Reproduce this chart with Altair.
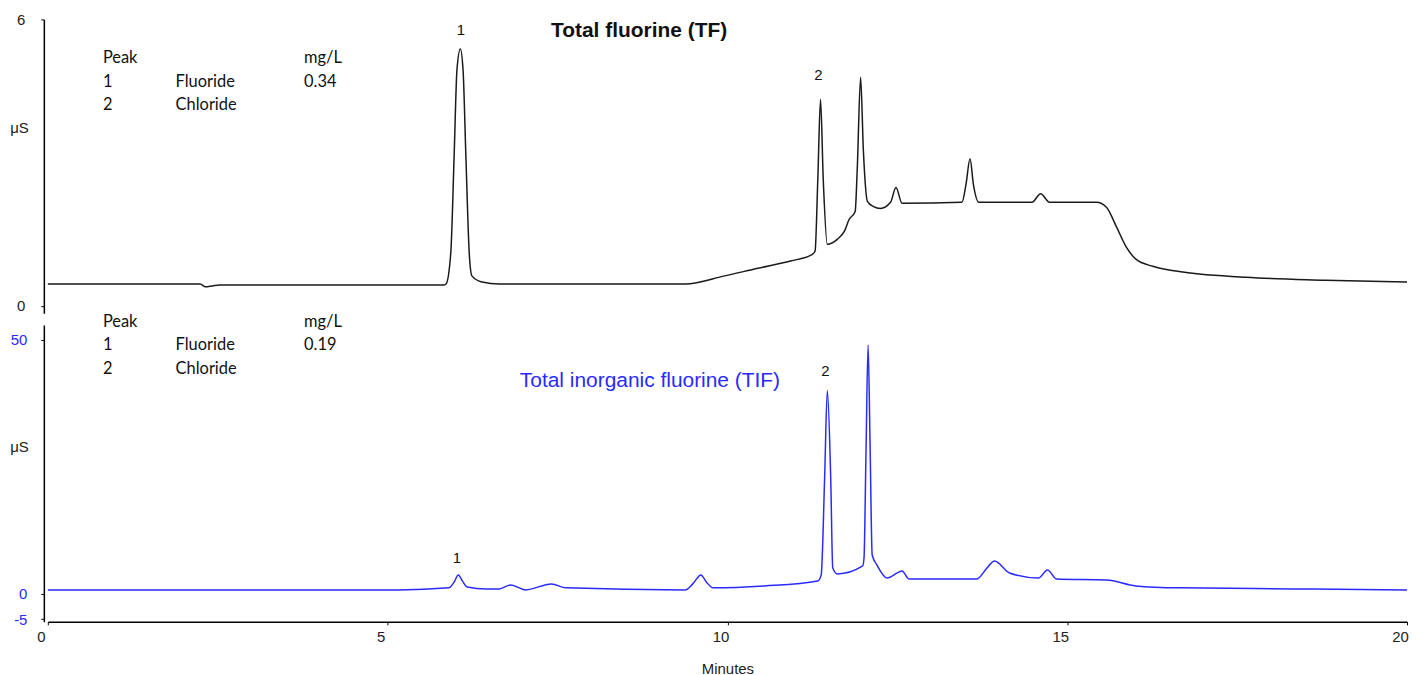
import altair as alt
import pandas as pd

# ---- data ----
tf_minutes = [0.00, 2.24, 2.32, 2.42, 2.53, 5.83, 5.86, 5.93, 5.98, 6.02, 6.07, 6.11, 6.15, 6.20, 6.24,
              6.39, 6.64, 9.38, 9.96, 10.45, 10.93, 11.25, 11.29, 11.33, 11.37, 11.41, 11.47, 11.62, 11.72,
              11.79, 11.88, 11.91, 11.96, 12.00, 12.06, 12.15, 12.25, 12.40, 12.48, 12.57, 13.45, 13.51,
              13.57, 13.62, 13.70, 14.48, 14.61, 14.74, 15.43, 15.58, 15.72, 15.87, 16.01, 16.26, 16.60,
              17.63, 18.80, 20.00]
tf_us = [0.46, 0.46, 0.40, 0.42, 0.44, 0.44, 0.46, 1.13, 3.21, 4.94, 5.38, 4.94, 3.21, 1.13, 0.63,
         0.50, 0.46, 0.46, 0.63, 0.79, 0.94, 1.08, 1.15, 2.65, 4.33, 2.65, 1.29, 1.40, 1.56,
         1.81, 1.98, 2.85, 4.79, 3.27, 2.19, 2.08, 2.04, 2.17, 2.48, 2.15, 2.17, 2.54,
         3.08, 2.54, 2.17, 2.17, 2.35, 2.17, 2.17, 2.06, 1.67, 1.23, 0.98, 0.83, 0.73,
         0.60, 0.54, 0.50]

tif_minutes = [0.00, 5.17, 5.90, 5.98, 6.04, 6.10, 6.17, 6.45, 6.64, 6.81, 7.03, 7.41, 7.62, 9.38,
               9.49, 9.61, 9.69, 9.79, 10.55, 11.33, 11.38, 11.43, 11.47, 11.52, 11.55, 11.62, 11.99,
               12.01, 12.04, 12.07, 12.10, 12.13, 12.20, 12.35, 12.50, 12.57, 12.67, 13.67, 13.82,
               13.93, 14.15, 14.58, 14.71, 14.84, 15.58, 16.01, 16.64, 18.36, 20.00]
tif_us = [0.78, 0.78, 1.18, 2.35, 3.73, 2.55, 1.37, 0.98, 0.98, 1.76, 0.78, 1.96, 1.18, 0.78,
          1.96, 3.73, 2.35, 1.18, 1.57, 2.55, 3.73, 22.7, 40.0, 22.7, 5.10, 3.92, 5.49,
          7.06, 28.6, 49.0, 28.6, 7.65, 5.69, 3.14, 4.12, 4.51, 2.94, 2.94, 5.10,
          6.47, 4.12, 3.14, 4.71, 2.94, 2.75, 1.57, 1.18, 0.98, 0.78]

x_ticks = [0, 5, 10, 15, 20]
tf_y_ticks = [0, 6]
tif_y_ticks = [-5, 0, 50]

# peak table (rows x columns)
table_rows = [["Peak", "", "mg/L"], ["1", "Fluoride", "0.34"], ["2", "Chloride", ""]]
table_rows_tif = [["Peak", "", "mg/L"], ["1", "Fluoride", "0.19"], ["2", "Chloride", ""]]
table_col_min = [0.81, 1.88, 3.77]
table_row_tf = [5.19, 4.69, 4.21]
table_row_tif = [53.5, 49.0, 44.3]

tf_peak_labels = ["1", "2"]
tf_peak_min = [6.08, 11.34]
tf_peak_us = [5.77, 4.83]
tif_peak_labels = ["1", "2"]
tif_peak_min = [6.02, 11.44]
tif_peak_us = [7.06, 43.9]

tf_title = ["Total fluorine (TF)"]
tf_title_pos = [8.70, 5.75]
tif_title = ["Total inorganic fluorine (TIF)"]
tif_title_pos = [8.86, 41.8]

# ---- build tables ----
tf_df = pd.DataFrame({"min": tf_minutes, "us": tf_us})
tif_df = pd.DataFrame({"min": tif_minutes, "us": tif_us})


def table_df(rows, row_y):
    recs = []
    for r, row in enumerate(rows):
        for c, txt in enumerate(row):
            if txt:
                recs.append({"min": table_col_min[c], "us": row_y[r], "label": txt})
    return pd.DataFrame(recs)


tf_tab = table_df(table_rows, table_row_tf)
tif_tab = table_df(table_rows_tif, table_row_tif)
tf_pk = pd.DataFrame({"min": tf_peak_min, "us": tf_peak_us, "label": tf_peak_labels})
tif_pk = pd.DataFrame({"min": tif_peak_min, "us": tif_peak_us, "label": tif_peak_labels})
tf_tt = pd.DataFrame({"min": [tf_title_pos[0]], "us": [tf_title_pos[1]], "label": tf_title})
tif_tt = pd.DataFrame({"min": [tif_title_pos[0]], "us": [tif_title_pos[1]], "label": tif_title})

FONT = "Liberation Sans"
BLUE = "#2a2aff"
W = 1365

xscale = alt.Scale(domain=[0, 20], nice=False, zero=False)

x_top = alt.X("min:Q", scale=xscale, axis=None)
x_bot = alt.X("min:Q", scale=xscale, axis=alt.Axis(
    values=x_ticks, title="Minutes", grid=False, labelFlush=False, labelOffset=-7,
    tickSize=3, tickColor="black", domainColor="black", domainWidth=1.5,
    labelFont=FONT, labelFontSize=15, labelColor="#222", labelPadding=5,
    titleFont=FONT, titleFontSize=15, titleFontWeight="normal", titleColor="#222", titlePadding=17))

y_top = alt.Y("us:Q", scale=alt.Scale(domain=[-0.15, 6], nice=False, zero=False), axis=alt.Axis(
    values=tf_y_ticks, title="μS", grid=False, offset=4, tickSize=3, tickColor="black",
    domainColor="black", domainWidth=1.5, labelFont=FONT, labelFontSize=15, labelColor="#222",
    labelPadding=16, labelExpr="'' + datum.value",
    titleFont=FONT, titleFontSize=15, titleFontWeight="normal", titleColor="#222",
    titleAngle=0, titleX=-25, titleY=109, titleAlign="center", titleBaseline="middle"))

y_bot = alt.Y("us:Q", scale=alt.Scale(domain=[-5.5, 52.9], nice=False, zero=False), axis=alt.Axis(
    values=tif_y_ticks, title="μS", grid=False, offset=4, tickSize=3, tickColor="black",
    domainColor="black", domainWidth=1.5, labelFont=FONT, labelFontSize=15, labelColor=BLUE,
    labelPadding=14, labelExpr="'' + datum.value",
    titleFont=FONT, titleFontSize=15, titleFontWeight="normal", titleColor="#222",
    titleAngle=0, titleX=-25, titleY=122, titleAlign="center", titleBaseline="middle"))


def panel(line_df, color, tab, pk, tt, tt_color, tt_weight, x_enc, y_enc, height):
    line = alt.Chart(line_df).mark_line(color=color, strokeWidth=1.5, interpolate="monotone").encode(
        x=x_enc, y=y_enc)
    tab_t = alt.Chart(tab).mark_text(font="Lato", fontSize=16.5, align="left", baseline="middle",
                                     color="#111").encode(x=x_enc, y=y_enc, text="label:N")
    pk_t = alt.Chart(pk).mark_text(font=FONT, fontSize=15, align="center", baseline="middle",
                                   color="#111").encode(x=x_enc, y=y_enc, text="label:N")
    tt_t = alt.Chart(tt).mark_text(font=FONT, fontSize=21, fontWeight=tt_weight, align="center",
                                   baseline="middle", color=tt_color).encode(x=x_enc, y=y_enc, text="label:N")
    return alt.layer(line, tab_t, pk_t, tt_t).properties(width=W, height=height)


top = panel(tf_df, "#1a1a1a", tf_tab, tf_pk, tf_tt, "#111", "bold", x_top, y_top, 295)
bot = panel(tif_df, BLUE, tif_tab, tif_pk, tif_tt, BLUE, "normal", x_bot, y_bot, 298)

chart = alt.vconcat(top, bot, spacing=12, bounds="flush").properties(
    padding={"left": 1, "top": 3, "right": 0, "bottom": 0}
).configure_view(stroke=None)

chart.save("out.html", embed_options={"renderer": "svg", "actions": False})
